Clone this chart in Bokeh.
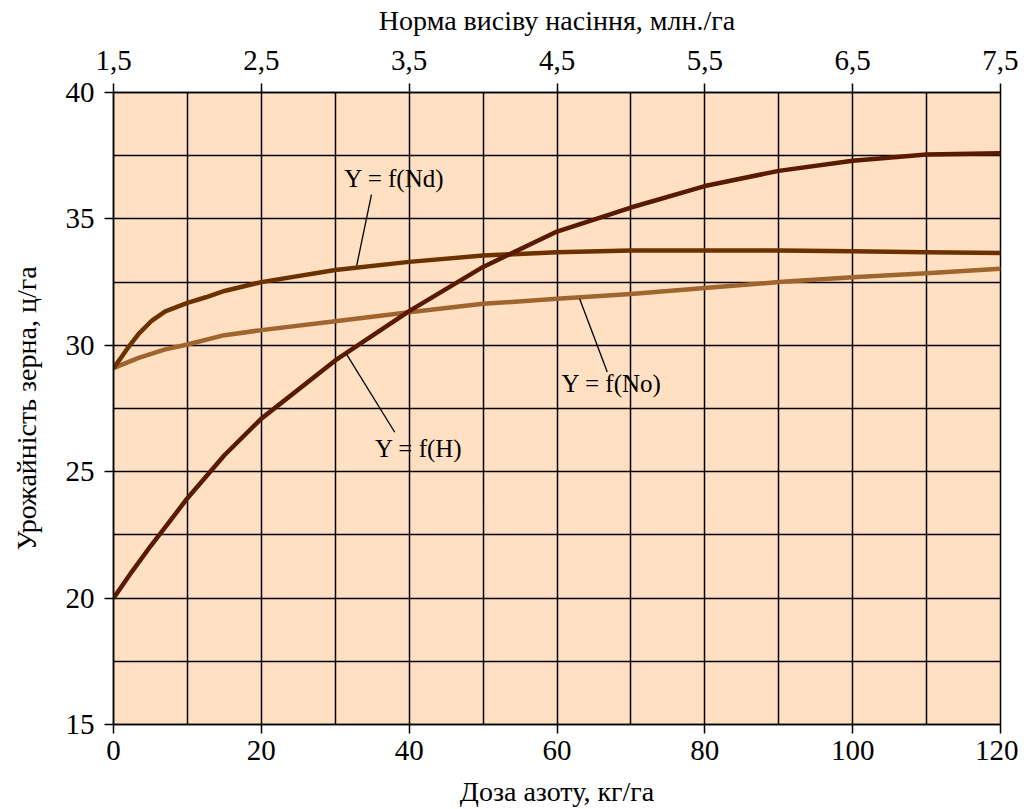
from bokeh.plotting import figure
from bokeh.models import Range1d, LinearAxis, FixedTicker, CustomJSTickFormatter
from bokeh.core.properties import value
from bokeh.embed import file_html
from bokeh.resources import INLINE

# Data
dose = [0, 2.5, 5, 7.5, 10, 15, 20, 30, 40, 50, 60, 70, 80, 90, 100, 110, 120]
y_h = [20.0, 21.05, 22.05, 23.0, 23.95, 25.65, 27.1, 29.4, 31.35, 33.1, 34.5, 35.45, 36.3, 36.9, 37.3, 37.55, 37.6]
dose_nd = [0, 1, 2, 3.4, 5.2, 7, 10, 12.5, 15, 20, 30, 40, 50, 60, 70, 80, 90, 100, 110, 120]
y_nd = [29.1, 29.5, 29.92, 30.45, 30.98, 31.34, 31.68, 31.9, 32.15, 32.5, 32.98, 33.3, 33.55, 33.68, 33.75, 33.75, 33.75, 33.72, 33.68, 33.65]
dose_no = [0, 3.4, 7, 10, 15, 20, 30, 40, 50, 60, 70, 80, 90, 100, 110, 120]
y_no = [29.1, 29.5, 29.84, 30.03, 30.4, 30.6, 30.95, 31.31, 31.64, 31.84, 32.03, 32.27, 32.5, 32.69, 32.85, 33.03]

x_ticks = [0, 20, 40, 60, 80, 100, 120]
y_ticks = [15, 20, 25, 30, 35, 40]
top_ticks = [1.5, 2.5, 3.5, 4.5, 5.5, 6.5, 7.5]

labels = ["Y = f(Nd)", "Y = f(H)", "Y = f(No)"]
label_x = [38.0, 41.3, 67.4]
label_y = [36.58, 25.92, 28.49]
leader_x0 = [34.9, 31.5, 63.06]
leader_y0 = [35.96, 29.66, 31.84]
leader_x1 = [32.9, 38.05, 66.8]
leader_y1 = [33.15, 26.56, 28.94]

FONT = "Times New Roman"

p = figure(width=1018, height=809, output_backend="svg", toolbar_location=None,
           x_range=Range1d(0, 120), y_range=Range1d(15, 40),
           min_border_left=113, min_border_right=18, min_border_top=92, min_border_bottom=85,
           border_fill_color="white")
p.background_fill_color = "#FFE0C2"
p.outline_line_color = "black"
p.outline_line_width = 1.5

p.extra_x_ranges = {"top": Range1d(1.5, 7.5)}
top_axis = LinearAxis(x_range_name="top", ticker=FixedTicker(ticks=top_ticks),
                      axis_label="Норма висіву насіння, млн./га")
top_axis.formatter = CustomJSTickFormatter(code="return tick.toFixed(1).replace('.', ',');")
p.add_layout(top_axis, "above")

bottom_axis = p.below[0]
left_axis = p.left[0]
bottom_axis.ticker = FixedTicker(ticks=x_ticks)
left_axis.ticker = FixedTicker(ticks=y_ticks)
bottom_axis.axis_label = "Доза азоту, кг/га"
left_axis.axis_label = "Урожайність зерна, ц/га"

for ax in [bottom_axis, left_axis, top_axis]:
    ax.axis_line_color = "black"
    ax.axis_line_width = 1.5
    ax.major_tick_line_color = "black"
    ax.major_tick_line_width = 1.5
    ax.major_tick_in = 0
    ax.major_tick_out = 9
    ax.minor_tick_line_color = None
    ax.major_label_text_font = FONT
    ax.major_label_text_font_size = "29px"
    ax.major_label_text_color = "black"
    ax.axis_label_text_font = FONT
    ax.axis_label_text_font_size = "28px"
    ax.axis_label_text_font_style = "normal"
    ax.axis_label_text_color = "black"

top_axis.major_label_standoff = 14
top_axis.axis_label_standoff = 12
bottom_axis.major_label_standoff = 7
bottom_axis.axis_label_standoff = 13
left_axis.major_label_standoff = 10
left_axis.axis_label_standoff = 21

p.xgrid.ticker = FixedTicker(ticks=list(range(0, 121, 10)))
p.ygrid.ticker = FixedTicker(ticks=[15 + 2.5 * i for i in range(11)])
p.xgrid.grid_line_color = "black"
p.ygrid.grid_line_color = "black"
p.xgrid.grid_line_width = 1.5
p.ygrid.grid_line_width = 1.5
p.xgrid.grid_line_alpha = 1
p.ygrid.grid_line_alpha = 1

p.line(dose_no, y_no, line_color="#A0652F", line_width=4.5, line_join="round")
p.line(dose_nd, y_nd, line_color="#6B3200", line_width=4.5, line_join="round")
p.line(dose, y_h, line_color="#5A1A00", line_width=4.5, line_join="round")

p.segment(x0=leader_x0, y0=leader_y0, x1=leader_x1, y1=leader_y1, line_color="black", line_width=1.3)
p.text(x=label_x, y=label_y, text=labels, text_font=value(FONT), text_font_size="25px",
       text_align="center", text_baseline="middle", text_color="black")

open("out.html", "w").write(file_html(p, INLINE))
